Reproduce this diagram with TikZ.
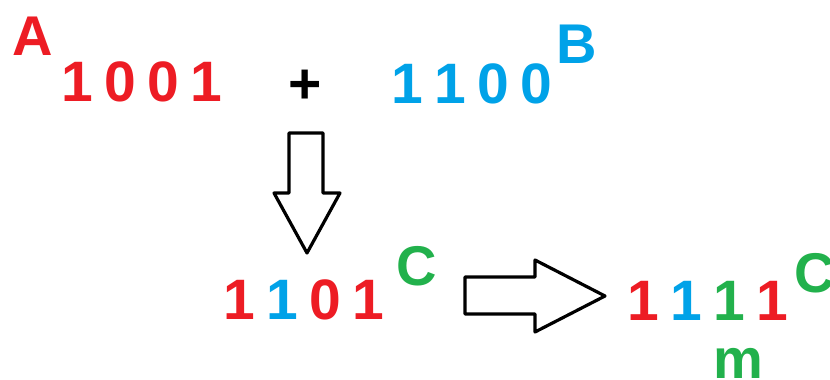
\documentclass[tikz,border=0pt]{standalone}
\usepackage{fontspec}
\setmainfont{Liberation Sans}

\definecolor{bitred}{RGB}{237,28,36}
\definecolor{bitblue}{RGB}{0,162,232}
\definecolor{bitgreen}{RGB}{34,177,76}

\tikzset{
  bits/.style={font=\fontsize{57}{60}\selectfont\bfseries,
    execute at begin node={\spaceskip=11.5pt\relax},inner sep=0pt,anchor=base},
  tag/.style={font=\fontsize{56}{60}\selectfont\bfseries,inner sep=0pt,anchor=base},
  blockarrow/.style={draw=black,line width=3.2pt,line join=round,fill=white}
}

\begin{document}
\begin{tikzpicture}[x=1pt,y=-1pt]

    % page frame, in pixels
    \useasboundingbox (0,0) rectangle (830,380);

    % the two inputs
    \node [tag,text=bitred] (tagA) at (33,55) {A};
    \node [bits,text=bitred] (numA) at (142,101) {1 0 0 1};
    \node [bits,text=black] (plus) at (305,103) {+};
    \node [bits,text=bitblue] (numB) at (472,103) {1 1 0 0};
    \node [tag,text=bitblue] (tagB) at (577,63) {B};

    % down arrow
    \draw [blockarrow] (289,133) -- (323,133) -- (323,193) -- (340,193)
      -- (307,253) -- (274,193) -- (289,193) -- cycle;

    % first result
    \node [bits] (numC) at (304,319) {\textcolor{bitred}{1} \textcolor{bitblue}{1} \textcolor{bitred}{0} \textcolor{bitred}{1}};
    \node [tag,text=bitgreen] (tagC) at (417,285) {C};

    % right arrow
    \draw [blockarrow] (465,277) -- (535,277) -- (535,260) -- (605,296)
      -- (535,332) -- (535,314) -- (465,314) -- cycle;

    % final result
    \node [bits] (numM) at (708,320) {\textcolor{bitred}{1} \textcolor{bitblue}{1} \textcolor{bitgreen}{1} \textcolor{bitred}{1}};
    \node [tag,text=bitgreen] (tagC2) at (815,292) {C};
    \node [tag,text=bitgreen] (tagm) at (738,378) {m};

\end{tikzpicture}
\end{document}
